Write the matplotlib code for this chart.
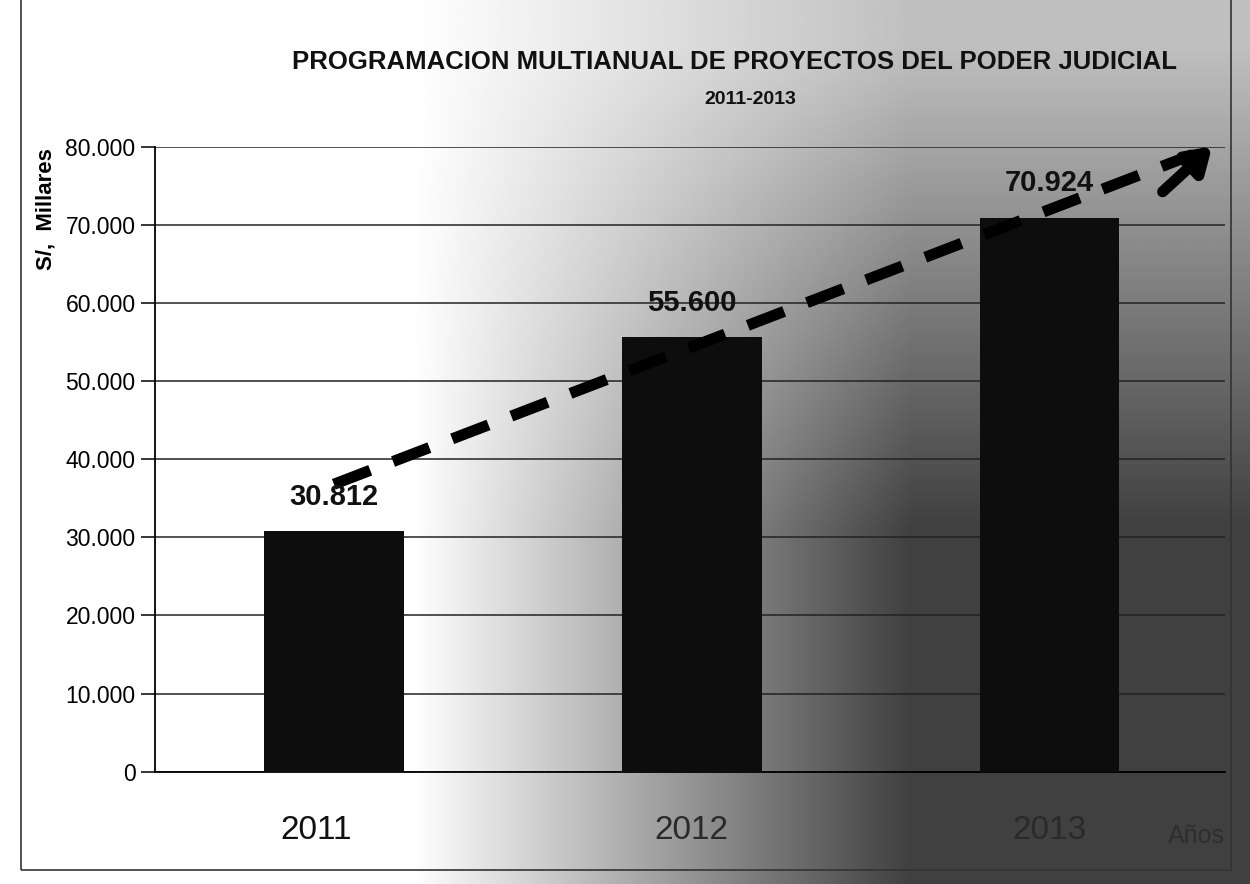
import numpy as np
import matplotlib.pyplot as plt
from matplotlib.patches import Rectangle

years = ['2011', '2012', '2013']
montos = [30812, 55600, 70924]
etiquetas = ['30.812', '55.600', '70.924']
yticks = [0, 10000, 20000, 30000, 40000, 50000, 60000, 70000, 80000]
ytick_labels = ['0', '10.000', '20.000', '30.000', '40.000', '50.000', '60.000', '70.000', '80.000']
trend_x = [0.0, 2.4]
trend_y = [36800, 79000]

sans = ['Liberation Sans', 'DejaVu Sans']

fig = plt.figure(figsize=(12.5, 8.84), dpi=100)

# scanned background: white on the left/top, dark grey toward bottom right
bg = fig.add_axes([0, 0, 1, 1], zorder=0)
xx = np.linspace(0, 1, 400)
yy = np.linspace(0, 1, 300)
X, Y = np.meshgrid(xx, yy)
fx = np.clip((X - 0.33) / 0.4, 0, 1)
fy = np.clip((0.95 - Y) / 0.55, 0, 1)
shade = fx * (0.25 + 0.5 * fy)
shade = np.clip(shade, 0, 0.75)
bg.imshow(1 - shade, cmap='gray', vmin=0, vmax=1, extent=[0, 1, 0, 1], aspect='auto', origin='lower')
bg.set_xlim(0, 1)
bg.set_ylim(0, 1)
bg.axis('off')
bg.add_patch(Rectangle((0.017, 0.016), 0.968, 1.2, fill=False, edgecolor='#333333', lw=1.2))

ax = fig.add_axes([0.124, 0.127, 0.856, 0.707], zorder=1)
ax.patch.set_alpha(0)
x = np.arange(len(years))
ax.bar(x, montos, width=0.39, color='#0d0d0d', zorder=3)
ax.set_xlim(-0.5, 2.49)
ax.set_ylim(0, 80000)
ax.set_yticks(yticks)
ax.set_yticklabels(ytick_labels, fontsize=16.5, family=sans)
ax.yaxis.grid(True, color='#222222', lw=1.1, zorder=1)
ax.set_xticks([])
for s in ['top', 'right']:
    ax.spines[s].set_visible(False)
ax.spines['left'].set_linewidth(1.3)
ax.spines['bottom'].set_linewidth(1.3)
ax.tick_params(axis='y', length=10, width=1.1, pad=4)

for xi, v, lab in zip(x, montos, etiquetas):
    ax.text(xi, v + 2600, lab, ha='center', va='bottom', fontsize=21, fontweight='bold',
            family=sans, color='#111111', zorder=5)

ax.plot(trend_x, trend_y, color='black', lw=8, dashes=(3.5, 2.2), solid_capstyle='butt', zorder=4)
ax.annotate('', xy=(trend_x[1] + 0.06, trend_y[1] + 1300), xytext=(trend_x[1] - 0.09, trend_y[1] - 5000),
            arrowprops=dict(arrowstyle='-|>,head_length=1.4,head_width=0.9', color='black', lw=8),
            zorder=4, annotation_clip=False)

for xi, yr in zip(x, years):
    ax.text(xi - 0.05 * (xi == 0), -7500, yr, ha='center', va='center', fontsize=24,
            family=sans, color='#111111' if xi == 0 else '#2a2a2a')
ax.text(2.41, -8200, 'Años', ha='center', va='center', fontsize=18, family=sans, color='#2e2e2e')

ax.set_ylabel('S/,  Millares', fontsize=16, fontweight='bold', family=sans, labelpad=8)
ax.yaxis.set_label_coords(-0.092, 0.9)

fig.text(0.588, 0.93, 'PROGRAMACION MULTIANUAL DE PROYECTOS DEL PODER JUDICIAL', ha='center', va='center',
         fontsize=18.5, fontweight='bold', family=sans, color='#111111')
fig.text(0.6, 0.887, '2011-2013', ha='center', va='center', fontsize=14, fontweight='bold',
         family=sans, color='#111111')

fig.savefig('out.png', dpi=100)
